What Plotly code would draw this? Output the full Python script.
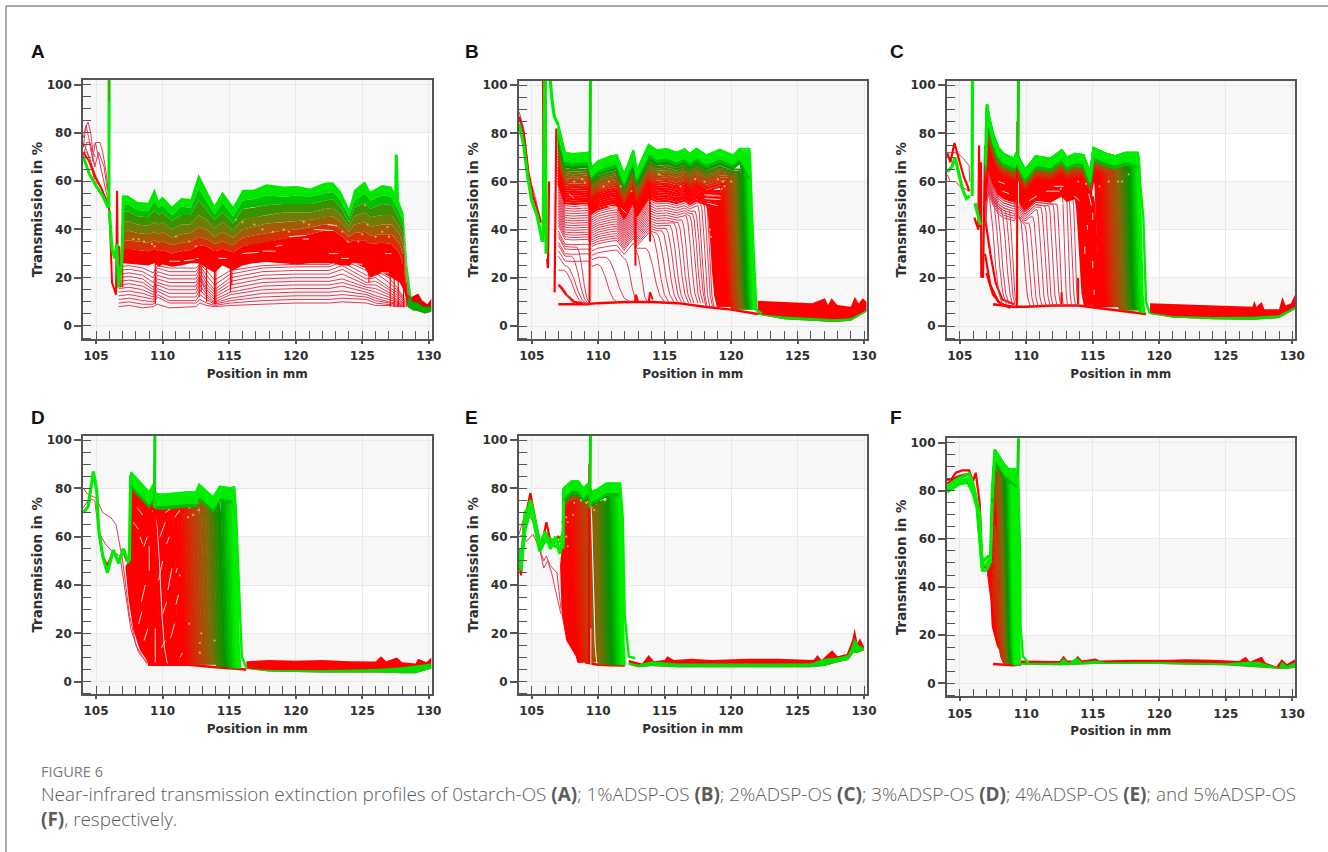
import numpy as np
import plotly.graph_objects as go

W, H = 1328, 852
X_TICKS = [105, 110, 115, 120, 125, 130]
Y_TICKS = [0, 20, 40, 60, 80, 100]
LETTERS = ["A", "B", "C", "D", "E", "F"]
CAPTION_HEAD = "FIGURE 6"
CAPTION = ("Near-infrared transmission extinction profiles of 0starch-OS <b>(A)</b>; 1%ADSP-OS <b>(B)</b>; "
           "2%ADSP-OS <b>(C)</b>; 3%ADSP-OS <b>(D)</b>; 4%ADSP-OS <b>(E)</b>; and 5%ADSP-OS<br>"
           "<b>(F)</b>, respectively.")

# ---------------- Panel A ----------------
A_X = [107.0,107.4,108.1,108.9,109.4,109.7,110.0,110.7,111.4,112.1,112.7,113.3,113.9,114.5,115.3,116.0,116.8,117.8,119.1,120.1,121.1,122.2,122.8,123.4,124.0,124.4,125.2,125.6,126.5,127.2,127.8,128.1,128.4,128.7]
A_E0 = [54,54,51.5,51,57,52,53.6,49.5,53,52.6,63,56.4,50,55.7,49.5,56.4,56.4,58.7,57.8,58,57,59.4,59.5,55.7,48.8,56.4,60,55.7,58.4,57.8,51,46.7,24.6,12]
A_E1 = [50,50.5,48,47.5,52,49,50,46,49.5,49,57,52,46.5,51,45.5,52,52.5,54,53.5,54,53.5,55,55.5,52,45.5,52,55,52,54,53.5,47,43,20,10]
A_E2 = [47,47.5,45.5,45,48,46,47,43.5,46,46,52,48,44,47,42.5,48.5,49,50,50.5,50.5,50.5,52,52.5,49,43,49,51,48.5,50.5,50,44,40,18,9.5]
A_E3 = [43,43.5,42,41.5,43,42,43,40,42,42,46,44,40.5,43,39.5,44,45,46,47,47,47,48.5,49,46,41,45.5,47,45,46,46,41,37,16,9]
A_E4 = [39,39.5,38.5,38,39,38,39,36.5,38,38.5,41,40,37,39,36.5,40,41,42.5,43,43.5,44,45,45.5,43,39,42,43,41,42,42,38,33,14.5,8.5]
A_E5 = [35,35.5,35,34.5,35.5,34.5,35,33.5,34.5,35,37,36,34,35,33.5,36.5,37.5,38.5,39.5,40,41,42,42,40,37,38.5,39,37.5,38,38,34,29,13,8]
A_E6 = [32,32,31.5,31,32,31,31.5,30,31,31.5,33.5,33,31,32,30.5,33,34,35,36,37,38,39.5,39.5,37.5,34.5,35.5,35.5,34,34.5,34,30,25,12,8]
A_E7 = [26,26,25.5,25,26,24.5,25.5,24.5,25,26,26,24,22,25,23,25,26,26.5,26,25.5,26,26,26,25,25,26,24,20,22,20,18,15,10,8]
A_LOW_X = [106.7,107.5,108.5,109.3,109.6,110.5,112.5,112.8,113.3,113.9,115.1,117.5,120,122.5,123.5,125.3,126,127,127.6,128.2]
A_LOW = [
 [8,8.5,7.5,8,9,7.5,8,9.5,8.5,8,8.5,9,9.5,9.5,10,9.5,8.5,8.5,8,8],
 [9.5,10,9,9,12,9.5,9.5,11,9.5,8.5,9.5,10.5,11,11,11.5,11,9.5,9,8.5,8],
 [11,11.5,10.5,10,13,10.5,10.5,13,11,9,10.5,12,12.5,12.5,13,12,10.5,9.5,9,8],
 [12.5,13,12,11,14.5,12,12,15,12,9.5,11.5,13.5,14,14,14.5,13,11.5,10,9.5,8],
 [14,14.5,13.5,12,15.5,13.5,13.5,17,13,10,13,15,15.5,15.5,16.5,14,12.5,11,10,8],
 [15.5,16,15,13,17,15,15,19,14,11,14,16.5,17,17,18,15,14,12,10.5,8.5],
 [17,17.5,16.5,14,18,16.5,16.5,20,15,12,15.5,18,18.5,18.5,19.5,16,15.5,13,11,9],
 [18.5,19,18,15,19.5,18,18,21,16,13,17,19.5,20,20,21.5,17,17,14,12,9],
 [20,20.5,19.5,16,21,19.5,19.5,22.5,17.5,14,18.5,21,21.5,21.5,23.5,18,18.5,15,13,9.5],
 [21.5,22,21,18,22.5,21,21,24,19,15,20,22.5,23,23,25,19.5,20,16,14,10],
 [23,23.5,22.5,20,24,22.5,22.5,25,21,17,21.5,24,24.5,24.5,26.5,21,22,18,15,10.5],
 [24.5,25,24,22,25,24,24,25.5,23,19,23,25,25.5,25.5,27.5,23,23,20,16,11],
]
A_LEFT_THIN = [
 [(104.05,74),(104.2,82),(104.4,84.5),(104.6,80),(104.75,72),(104.95,70)],
 [(104.05,78),(104.25,83),(104.45,78),(104.7,70),(104.95,66)],
 [(104.05,70),(104.3,76),(104.55,76),(104.7,72)],
 [(104.7,74),(105.0,76),(105.3,76),(105.5,72),(105.75,64),(105.9,56)],
 [(104.7,68),(104.95,76),(105.1,72),(105.5,62),(105.9,52)],
 [(104.05,72),(104.3,72),(104.6,68),(105,62),(105.5,56),(105.9,50)],
 [(104.6,74),(104.9,66),(105.2,72),(105.6,66),(105.85,56)],
 [(104.05,76),(104.5,70),(104.9,60),(105.3,58),(105.85,52)],
]
A_LEFT_RED = [[(104.05,72),(104.5,68),(104.9,62),(105.4,57),(105.9,50)],
              [(105.95,50),(106.05,41),(106.2,18),(106.4,15),(106.5,13)],
              [(106.5,13),(106.58,56),(106.65,16),(106.75,33),(106.85,16)]]
A_LEFT_GREEN = [[(104.05,70),(104.5,63),(105,58),(105.5,54),(105.9,49)],
                [(105.97,49),(105.98,102)],
                [(106.0,48),(106.2,32),(106.4,28),(106.55,34),(106.7,16),(106.95,28),(107.05,54)],
                [(127.5,52),(127.56,71),(127.65,52)]]
A_STROKES = [[(107.0,16),(107.0,26)],[(109.45,9),(109.45,28)],[(112.75,12),(112.75,32)],[(112.9,14),(112.9,28)],
             [(113.3,10),(113.3,26)],[(113.9,9),(113.9,32)],[(114.0,9),(114.0,25)],[(115.1,14),(115.1,30)],
             [(115.2,17),(115.2,28)],[(125.5,18),(125.5,28)],[(127.1,8),(127.1,30)],[(127.4,8),(127.4,26)],
             [(127.7,8),(127.7,27)],[(128.1,8),(128.1,30)],[(128.3,8),(128.3,18)]]
A_PALE = [(110.5,26.8,111.3,26.8),(111.6,27,112.4,27.5),(112.5,28,112.7,28),(114.2,28,114.8,28),(116,30,117.2,30.5),
          (117.5,31,118.5,31),(118.5,33,119,33.5),(119.5,37,120.8,37.5),(120.5,36,121,36),(121.4,40,122.8,39.5),
          (122.4,42,123.1,41.5),(122.5,30,123.2,30),(123.4,28,124,28),(124.2,26,125,25.5),(126.4,22,127,22),(126.7,30,127.2,30)]
A_DOTS = [(107.8,36),(108.2,36),(108.6,35),(109.2,34),(109.4,33),(111,37),(112,35),(112.5,33),(115.5,44),(116,43),(116.9,42),
          (117.5,40),(118.3,39),(119.1,40),(119.5,39),(120.6,43),(121,42),(123.5,39),(123.9,35),(124.7,35),(125,38),(125.2,50),
          (125.4,42),(126,37),(126.5,39),(126.9,41),(127,37)]
A_RIGHT_RED = [(128.2,14),(128.7,12),(129.2,13.5),(129.5,10.5),(129.9,9),(130.2,11.5)]
A_RIGHT_GTOP = [(128.4,12),(128.8,10),(129.2,9.5),(129.6,8),(130.2,8)]
A_RIGHT_GBOT = [(128.4,8),(128.8,6.5),(129.3,6),(129.7,5.2),(130.2,6)]

# ---------------- Panel B ----------------
B_REF = 72
B_PLATEAU = [(107,83.5),(107.5,72),(108.1,71.5),(108.9,71.8),(109.25,72),(109.5,66),(110,68.5),(110.9,70.4),(111.4,71),(111.95,63),(112.65,73),(112.9,64.6),(113.8,75.3),(114.4,73),(115.15,73.5),(115.9,72),(116.5,73.5),(116.9,71.5),(117.4,73.6),(118.15,70.9),(119.15,73.3),(120.15,70.9),(120.65,73.6),(121.4,66)]
B_TAIL = [(121.4,66),(121.6,39.8),(121.9,6.6),(122.3,5.2)]
B_BASE = [(107,9),(108,9),(109,9),(110,9.5),(112,10),(114,10),(116,9.5),(118,8),(120,6.8),(122,5)]
B_THIN = [(15,107.0,108.4),(20,107.4,109.0),(25,107.6,109.2),(29,108.0,109.3),(33,108.4,109.4),(27,110.0,111.5),(30,110.6,112.4),
          (32,112.0,113.0),(34,112.9,113.7),(36,113.6,115.0),(37,114.0,115.3),(38,114.4,115.7),(39,114.8,116.0),(40,115.1,116.3),
          (41,115.4,116.5),(42,115.7,116.8),(43,116.0,117.0),(44,116.3,117.2),(45,116.6,117.5),(46,116.9,117.7),(47,117.1,117.9),
          (48,117.3,118.1),(49,117.5,118.2),(50,117.7,118.4),(51,117.9,118.6),(52,118.1,118.7)]
B_FRONT = [118.2,118.3,118.38,118.47,118.55,118.63,118.72,118.8,118.88,118.97,119.05,119.13,119.22,119.3,119.38,119.47,119.55,119.63,119.72,119.8,119.88,119.97,120.05,120.13,120.22,120.3,120.38,120.47,120.55,120.63,120.72,120.8,120.88,120.97,121.05,121.13,121.2,121.27,121.33,121.38]
B_LEVEL = [51,52,52,53,53,54,54,55,55,56,56,57,57,58,58,59,59,60,60,61,61,62,62,63,63,64,64,65,65,66,66.5,67,67.5,68,68.5,69,69.8,70.5,71.2,72]
B_DW_X, B_DW_Y = [118.2,121.4], [0.8,0.45]
B_COLOR_STOPS = (119.5,121.0,121.5)
B_LEFT_THIN = [[(104.05,89),(104.4,82),(104.8,62),(105.2,55),(105.7,43)]]
B_LEFT_RED = [[(104.05,87),(104.4,80),(104.75,64),(105.1,54),(105.7,43)],
              [(105.85,102),(105.9,38)],[(106.15,28),(106.22,24),(106.3,60)],[(106.72,14),(106.85,82)],
              [(107,17),(107.2,16),(107.6,13),(108.2,10),(109.3,9)]]
B_LEFT_GREEN = [[(104.05,84),(104.4,75),(104.7,62),(105,52),(105.4,46),(105.8,35)],
                [(105.85,35),(105.98,102)],[(106.02,102),(106.08,30)],
                [(106.4,102),(106.5,95),(106.7,87),(107,83.5)]]
B_WEDGE = []
B_STROKES = [[(109.35,9),(109.38,82)],[(112.8,25),(112.8,52)],[(113.9,35),(113.9,60)],[(112.75,10),(112.85,13),(113.0,10)],[(113.8,10),(113.9,14),(114.1,11)]]
B_SPIKE = [[(109.38,65),(109.42,102)]]
B_PALE = [(107.8,55,108.2,53),(108.6,50,109,48),(110.7,50,111.5,49),(111.7,49,112.1,47),(113.9,52,114.3,50),(114.7,49,115.1,47),
          (116.5,51,116.9,49),(118,54.5,119.2,54),(118,53,119.2,52.5),(118.2,51,119,50),(109.5,11,109.5,35)]
B_DOTS = [(108.2,60),(108.8,61),(109,59.5),(110.4,58),(110.8,60),(111.7,58),(112.5,56),(114.6,63),(116.2,58),(117.3,61),(118,60),
          (119,61),(119.4,60),(119.5,58),(120,60),(118.4,40),(118.5,37),(119.3,57)]
B_RIGHT_RED = [(122,10.5),(124.4,10),(126.1,9.4),(127.05,11.5),(127.3,8.7),(127.55,11.5),(128,8.7),(129,8),(129.3,12),(129.6,9.4),(129.9,11.5),(130.2,10)]
B_RIGHT_GTOP = [(122,5),(124,3.9),(126.5,3.2),(127.75,2.8),(129,3.2),(130,6),(130.2,7)]
B_RIGHT_GBOT = [(122,4.8),(124,2.8),(127.75,1.7),(129,2.2),(130.2,6)]

# ---------------- Panel C ----------------
C_REF = 70
C_PLATEAU = [(106.95,70),(107.05,92),(107.2,87),(107.5,80),(107.9,74),(108.3,71.5),(108.7,70.5),(109.1,69.5),(109.25,72),(109.6,68),(109.9,65),(110.3,67.5),(110.7,70.5),(111.3,70),(111.8,69.5),(112.67,73),(113.05,70),(113.7,71.5),(114.3,71),(114.8,63.5),(115.05,74),(116.05,71.5),(116.7,70.5),(117.45,72),(118.45,70.5)]
C_TAIL = [(118.45,70.5),(118.55,60),(118.8,45),(119,10),(119.3,5)]
C_BASE = [(107.5,9),(109,8),(110,8),(112,8.5),(113.9,8.5),(115,7.8),(117,6.5),(118.5,5.5),(119,5)]
C_THIN = [(42,107.1,108.2),(44,107.4,108.5),(45,107.7,108.7),(46,108.1,109.0),(47,108.4,109.2),(48,108.7,109.3),(44,109.5,110.3),
          (45,109.9,110.6),(46,110.2,110.9),(47,110.5,111.2),(48,110.8,111.5),(49,111.1,111.8),(50,111.4,112.0),(50,111.7,112.3),
          (51,112.0,112.6),(51,112.3,112.8),(52,112.7,113.1),(52,113.0,113.4),(53,113.2,113.7),(53,113.5,113.9)]
C_FRONT = [113.7,113.8,113.9,113.98,114.06,114.14,114.22,114.3,114.38,114.46,114.54,114.62,114.7,114.78,114.86,114.94,115.02,115.1,115.18,115.26,115.34,115.42,115.5,115.58,115.66,115.74,115.82,115.9,115.98,116.06,116.14,116.22,116.3,116.38,116.46,116.54,116.62,116.7,116.78,116.86,116.94,117.02,117.1,117.18,117.26,117.34,117.42,117.5,117.58,117.66,117.74,117.82,117.9,117.98,118.06,118.14,118.22,118.3,118.36,118.42]
C_LEVEL = [52,52.5,53,53.5,54,54.5,55,55.5,56,56.5,57,57,57.5,58,58,58.5,59,59,59.5,60,60,60.5,61,61,61.5,61.5,62,62,62.5,62.5,63,63,63.5,63.5,64,64,64,64.5,64.5,65,65,65,65.5,65.5,66,66,66,66.5,66.5,67,67,67.5,68,68.5,69,69.5,70,70,70,70]
C_DW_X, C_DW_Y = [113.7,118.4], [0.7,0.45]
C_COLOR_STOPS = (115.7,117.9,118.5)
C_LEFT_THIN = [[(104.05,72),(104.3,72),(104.8,72),(105.2,70),(105.7,66.7),(105.75,60)],
               [(104.05,63),(104.3,60),(104.7,60),(105,58),(105.4,57),(105.7,56)]]
C_LEFT_RED = [[(104.05,72),(104.3,68),(104.6,76),(104.9,70),(105.3,62),(105.6,58),(105.7,56)],
              [(106.1,45),(106.4,40),(106.45,75),(106.5,41)],[(106.6,68),(106.62,20)],[(106.75,20),(106.9,75)],
              [(106.9,30),(107.3,17),(107.9,10),(108.8,7.5)],[(107.0,22),(107.5,13),(108.1,9),(108.9,8)],
              [(106.9,45),(107.3,30),(107.7,18),(108.2,11),(109.1,9)]]
C_LEFT_GREEN = [[(104.05,64),(104.4,66),(104.65,70),(104.9,64),(105.2,57),(105.5,53),(105.75,54)],
                [(105.93,54),(105.96,102)],[(106.15,51),(106.2,50),(106.4,46),(106.55,42)],[(106.95,70),(107.05,92)]]
C_WEDGE = []
C_STROKES = [[(109.3,8),(109.33,85)],[(112.65,9),(112.65,14)],[(113.9,9),(113.9,20)]]
C_SPIKE = [[(109.38,70),(109.42,102)]]
C_PALE = [(107.9,60,108.4,59),(108.2,56,108.7,55),(110.2,52,110.8,54),(111.5,56,112.5,56),(112.1,58,112.8,58),(112.6,52,112.9,50),
          (113.6,54,114,52),(114.7,55,114.9,50),(114.6,42,114.6,40),(114.4,33,114.4,30),(115,27,115,24),(115,47,115,44),(115.1,15,115.1,13),
          (109.42,50,109.42,60),(109.42,10,109.42,20)]
C_DOTS = [(113.9,60),(114.5,59),(115.5,58),(116.2,60),(116.9,60),(117.7,63),(117.2,60),(112.6,57)]
C_RIGHT_RED = [(119.3,9.5),(122,9),(125,8.2),(127,8),(127.15,10.5),(127.3,8),(127.7,10),(127.9,7),(129,7),(129.25,12),(129.5,8.5),(129.9,9.5),(130.2,13)]
C_RIGHT_GTOP = [(119.3,5.5),(121,4.2),(124,3.7),(127,3.8),(129,4.5),(130.2,8)]
C_RIGHT_GBOT = [(119.3,5),(121,3.5),(124,2.8),(127,2.6),(129,3.3),(130.2,7)]

# ---------------- Panel D ----------------
D_REF = 78
D_PLATEAU = [(107.6,85.6),(108.3,81.5),(109,77.3),(109.3,80.5),(109.5,76.7),(110,76.5),(111,77),(112,77.5),(112.5,77.3),(112.75,80.5),(113.4,77.3),(113.8,75.3),(114.3,79.7),(115.1,79),(115.3,79.4),(115.5,72.5)]
D_TAIL = [(115.5,72.5),(115.7,47.6),(115.95,10.4),(116.3,5.5)]
D_BASE = [(108.9,7),(110,7),(112,7),(114,6),(115,5.5),(116.3,5)]
D_THIN = []
D_FRONT = [107.6,107.7,107.81,107.9,108.0,108.12,108.2,108.31,108.4,108.5,108.62,108.7,108.8,108.91,109.0,109.1,109.22,109.3,109.55,109.65,109.75,109.86,109.95,110.05,110.16,110.25,110.35,110.46,110.55,110.65,110.76,110.85,110.95,111.06,111.15,111.25,111.36,111.45,111.55,111.66,111.75,111.85,111.96,112.05,112.15,112.26,112.35,112.45,112.56,112.65,112.75,112.86,112.95,113.05,113.16,113.25,113.35,113.46,113.55,113.65,113.76,113.85,113.95,114.06,114.15,114.25,114.36,114.45,114.55,114.66,114.75,114.85,114.96,115.05,115.13,115.2,115.28,115.34,115.4]
D_LEVEL = [66,66,66.5,67,67,67.5,67.5,68,68,68.5,68.5,69,69,69,69.5,69.5,70,70,70,70.5,70.5,70.5,71,71,71,71,71.5,71.5,71.5,71.5,72,72,72,72,72.5,72.5,72.5,72.5,73,73,73,73,73,73.5,73.5,73.5,73.5,74,74,74,74,74.5,74.5,74.5,75,75,75,75,75.5,75.5,75.5,76,76,76,76.5,76.5,76.5,77,77,77,77.5,77.5,78,78,78.5,78.5,78.5,79,79]
D_DW_X, D_DW_Y = [107.6,109,112,115.4], [1.4,1.0,0.6,0.45]
D_COLOR_STOPS = (111.4,114.5,115.4)
D_LEFT_THIN = [[(104.05,80),(104.3,78),(104.6,77),(105,76),(105.5,70),(106.1,68),(106.5,65),(107,50),(107.5,28),(108,15),(108.8,7.5)],
               [(104.05,72),(104.5,76),(104.9,75),(105.2,62),(105.7,57),(106.2,54),(106.8,52),(107.2,38),(107.6,22),(108.2,12),(109,7)]]
D_LEFT_RED = [[(105.2,62),(105.5,52),(105.85,48),(106.3,54),(106.7,50),(107.05,54),(107.3,50)]]
D_LEFT_GREEN = [[(104.05,70),(104.4,72.5),(104.8,87),(105.05,79),(105.2,63),(105.5,52),(105.85,45),(106.3,54.5),(106.7,49),(107.05,55),(107.45,49)],
                [(107.5,50),(107.6,85.6)]]
D_WEDGE = [(107.2,47.6),(107.45,33.8),(107.8,21.4),(108.3,13),(108.95,7.6),(109.3,7.5),(109.3,70),(108.5,75),(107.7,75),(107.45,50)]
D_STROKES = [[(109.3,8),(109.33,72)]]
D_SPIKE = [[(109.38,72),(109.42,102)]]
D_PALE = [(107.8,66,108.2,63),(108.1,72,108.5,69),(108.3,60,108.5,57),(108.6,56,108.85,60),(109.0,46,109.0,56),(108.4,33,108.7,40),
          (108.2,24,108.45,29),(108.6,17,108.9,22),(109.7,42,110.0,50),(109.8,60,110.2,66),(110.3,57,110.5,60),(110.4,38,110.7,47),
          (110.0,28,110.3,33),(110.6,18,110.9,24),(111.0,32,111.2,36),(111.0,45,111.1,47),(110.2,70,110.7,72),(110.9,68,111.3,71),
          (111.3,10,111.5,12),(109.9,14,110.2,17),(109.45,8,109.45,22)]
D_DOTS = [(111.3,44),(112,24),(112.8,16),(112.9,20),(112.8,12),(113.9,17),(112,72),(113.4,73),(112.7,71),(112.3,69),(111.9,68)]
D_RIGHT_RED = [(116.3,8.5),(118,9),(120,8.7),(122,9),(124,8.5),(126,8.3),(126.4,10.5),(126.8,8.5),(127.6,10),(128,8),(129,7.5),(129.2,9.5),(129.8,8),(130.2,10)]
D_RIGHT_GTOP = [(116.3,5.5),(118,4.8),(122,4.7),(126,5.2),(128,6),(130.2,7.5)]
D_RIGHT_GBOT = [(116.3,5.3),(118,4.2),(122,3.8),(126,3.8),(128,3.5),(129,3.5),(130.2,5.5)]

# ---------------- Panel E ----------------
E_REF = 82
E_PLATEAU = [(107.4,80),(108,82.9),(108.5,82.9),(108.9,80),(109.25,82),(109.5,78.7),(109.9,79.4),(110.6,82),(111.65,82)]
E_TAIL = [(111.65,82),(111.85,68),(112,27),(112.3,10.4),(112.8,9.7)]
E_BASE = [(109,8),(110,7),(111,6.8),(112,6.7)]
E_THIN = []
E_FRONT = [107.3,107.38,107.46,107.54,107.62,107.7,107.78,107.86,107.94,108.02,108.1,108.18,108.26,108.34,108.42,108.5,108.58,108.66,108.74,108.82,108.9,108.98,109.06,109.14,109.22,109.3,109.55,109.63,109.71,109.79,109.87,109.95,110.03,110.11,110.19,110.27,110.35,110.43,110.51,110.59,110.67,110.75,110.83,110.91,110.99,111.07,111.15,111.23,111.31,111.39,111.47,111.55,111.61,111.66]
E_LEVEL = [68,69,70,71,72,72.5,73,73,73.5,73.5,74,74,74.5,74.5,74.5,75,75,75,75,75,75.5,75.5,75.5,75.5,75.5,75.5,76,76,76,76,76,76.5,76.5,76.5,76.5,76.5,76.5,77,77,77,77,77,77.5,77.5,78,78.5,79,79.5,80,80.5,81,81.5,82,82]
E_DW_X, E_DW_Y = [107.3,108,109,110,111.7], [1.2,0.8,0.5,0.4,0.35]
E_COLOR_STOPS = (108.1,110.9,111.7)
E_LEFT_THIN = [[(104.05,60),(104.4,61),(104.6,58),(105.1,61),(105.6,55),(105.9,47),(106.2,50),(106.5,45),(106.9,35),(107.2,28)],
               [(104.05,61),(104.4,68),(104.7,70),(105.1,66),(105.6,55),(105.9,50),(106.1,52),(106.4,48),(106.9,45),(107.2,30)]]
E_LEFT_RED = [[(104.05,50),(104.2,44),(104.4,65),(104.9,78),(105.3,66),(105.7,55),(106.1,66),(106.5,56),(107,60),(107.4,58)]]
E_LEFT_GREEN = [[(104.05,55),(104.2,46),(104.5,66),(104.9,75),(105.2,68),(105.6,57),(106.05,62),(106.4,55),(106.8,60),(107.1,53),(107.4,60)],
                [(104.05,52),(104.2,47),(104.5,70),(104.9,73),(105.2,65),(105.6,54),(106.05,59),(106.4,57),(106.8,56),(107.1,55),(107.4,58)],
                [(104.05,48),(104.2,49),(104.5,63),(104.9,71),(105.2,67),(105.6,57),(106.05,58),(106.4,59),(106.8,58),(107.1,58),(107.4,62)],
                [(107.35,55),(107.4,80)]]
E_WEDGE = [(107.13,48),(107.25,28),(107.6,17),(108.25,11),(109.1,8.3),(109.3,8),(109.3,40),(108.4,74),(107.6,74),(107.3,58)]
E_STROKES = [[(109.3,8),(109.33,90)]]
E_SPIKE = [[(109.38,72),(109.42,102)]]
E_PALE = [(109.45,7,109.45,22)]
E_DOTS = [(108.2,74),(108.7,75),(109.1,74),(109.5,75),(109.5,72),(109.7,71),(108.1,69),(107.6,68),(107.7,66),(110.2,75),(110.5,75),(107.7,56),(107.6,60)]
E_RIGHT_RED = [(112.3,9),(113,8),(113.3,7.5),(113.8,11),(114.2,8.5),(115,9),(115.2,10.5),(115.7,9),(117,9.5),(118.5,9),(121.3,9.5),(123.6,9.5),(126.2,9),(126.5,11),(126.8,9),(127.6,13),(128,10.5),(128.7,11.5),(129.1,17),(129.3,22),(129.5,16),(129.7,18),(130,14.5)]
E_RIGHT_GTOP = [(112.3,8),(113,7),(114,8.5),(116,7.5),(120,7.5),(126,7.5),(127,9.5),(128,10),(128.8,11),(129.3,18),(129.6,15),(130,14)]
E_RIGHT_GBOT = [(112.3,7),(113,6),(114,6.5),(116,6),(120,6),(126,6),(127,6.5),(128,8),(128.8,9),(129.2,12),(129.5,12),(130,13)]

# ---------------- Panel F ----------------
F_REF = 88
F_PLATEAU = [(107.45,80),(107.65,97),(108.3,91.3),(108.65,89),(109.25,86.5)]
F_TAIL = [(109.25,86.5),(109.4,86),(109.55,50),(109.57,23.6),(109.75,11.2),(110.15,8.4)]
F_BASE = [(107.5,8),(109,7.5),(109.6,7.8)]
F_THIN = []
F_FRONT = [107.36,107.39,107.42,107.45,107.48,107.51,107.54,107.57,107.6,107.63,107.66,107.7,107.74,107.78,107.82,107.88,107.94,108.0,108.06,108.12,108.18,108.24,108.3,108.36,108.42,108.48,108.54,108.6,108.66,108.72,108.78,108.84,108.9,108.96,109.02,109.08,109.14,109.2,109.26,109.32]
F_LEVEL = [40,44,48,52,56,60,64,67,70,72,74,75,76,77,78,79,80,80,81,81,82,82,83,83,84,84,85,85,85.5,86,86,86.5,87,87,87.5,88,88,88,88,88]
F_DW_X, F_DW_Y = [107.36,108,108.8,109.32], [1.0,0.6,0.35,0.2]
F_COLOR_STOPS = (107.6,108.6,109.0)
F_LEFT_THIN = []
F_LEFT_RED = [[(104.05,84.5),(104.4,85),(104.7,87.5),(105.2,88.5),(105.7,88.5),(106,84),(106.2,87.5),(106.3,83),(106.5,75),(106.6,60),(106.65,48)],
              [(104.05,83),(104.7,85.5),(105.2,86.5),(105.7,87)]]
F_LEFT_GREEN = [[(104.05,81.5),(104.7,84.5),(105.3,86),(105.7,87),(106,83),(106.3,76),(106.5,70),(106.6,58),(106.7,50),(107,52),(107.2,53)],
                [(104.05,79.5),(105,83),(105.6,83.5),(106,79),(106.3,73),(106.55,55),(106.7,47),(107,47),(107.25,50)],
                [(104.05,80.5),(105,84),(105.6,85),(106,81),(106.3,74.5),(106.55,57),(106.7,48.5),(107,49.5),(107.25,51.5)],
                [(107.3,50),(107.35,60),(107.45,80),(107.65,97)]]
F_WEDGE = [(106.7,48),(107,47.5),(107.3,34.7),(107.4,23.6),(107.8,15.3),(108.55,9.1),(109.3,7.5),(109.3,30),(108.2,88),(107.7,88),(107.35,50)]
F_STROKES = []
F_SPIKE = [[(109.36,86),(109.42,102)]]
F_PALE = []
F_DOTS = []
F_RIGHT_RED = [(109.6,9.5),(112.5,9.3),(112.8,11.5),(113.1,9.5),(113.7,9.5),(113.85,11.5),(114.2,9.5),(115.2,10.3),(115.5,9.5),(118,9.8),(120.8,9.8),(122,10),(124,9.8),(126,9.3),(126.5,11),(126.8,9),(127.7,11),(128,8.5),(128.8,7),(129.2,10),(129.6,8),(130.2,10)]
F_RIGHT_GTOP = [(109.6,8.5),(112.5,8.5),(112.8,10.5),(113.2,8.5),(113.8,10.8),(114.2,8.8),(115.2,9.5),(116,8.7),(120,8.8),(125,8.3),(126.5,9),(127.5,9),(128,8),(129,6.5),(129.2,9),(129.6,7.3),(130.2,8.7)]
F_RIGHT_GBOT = [(109.6,7.8),(112.5,7.5),(115,8),(120,8),(125,7.5),(126.5,7),(128,6.5),(129,6),(129.6,6),(130.2,6.5)]

# Below each panel's top edge: how far (in %) the bright and the darker green rims reach
BRIGHT_RIM = [0.7, 1.4, 2.1, 2.8, 3.5]
DARK_RIM = [4.2, 4.9]

# ---------------- layout and styles (not data) ----------------
BOXES = {"A": (83, 431.5, 80, 339), "B": (518.7, 866.7, 80.7, 339), "C": (946.7, 1295, 80.7, 339),
         "D": (83, 431.5, 435.7, 694), "E": (518.7, 866.7, 435.7, 694), "F": (946.7, 1295, 438.3, 696.3)}
XR = [104.02, 130.2]
YRS = {"A": [-5.4, 101.9], "B": [-5.4, 101.9], "C": [-5.4, 101.9], "D": [-5.1, 101.8], "E": [-5.1, 101.8], "F": [-5.4, 101.8]}
LETTER_POS = {"A": (29, 52), "B": (463, 52), "C": (888, 52), "D": (29, 417), "E": (463, 417), "F": (888, 417)}
RED, PINK, GREEN = "#ff0000", "#e23a50", "#00ec00"
PALE, DOT = "#f9dcc8", "#e9b04a"
DROP_T = [0, .15, .35, .55, .75, 1]
DROP_F = [1, .93, .68, .34, .11, 0]
STOPS = [(255, 0, 0), (200, 55, 10), (130, 105, 10), (0, 150, 0), (0, 240, 0)]

fig = go.Figure()


def unzip(pts):
    return [p[0] for p in pts], [p[1] for p in pts]


def axes(i):
    s = "" if i == 0 else str(i + 1)
    return "x" + s, "y" + s


def line(i, xs, ys, color, width):
    xa, ya = axes(i)
    fig.add_trace(go.Scatter(x=xs, y=ys, mode="lines", line=dict(color=color, width=width), xaxis=xa, yaxis=ya,
                             hoverinfo="skip", showlegend=False))


def poly(i, xs, ys, color):
    xa, ya = axes(i)
    fig.add_trace(go.Scatter(x=xs, y=ys, mode="lines", line=dict(width=0, color=color), fill="toself", fillcolor=color,
                             xaxis=xa, yaxis=ya, hoverinfo="skip", showlegend=False))


def band(i, top, bottom, color):
    tx, ty = unzip(top)
    bx, by = unzip(bottom)
    poly(i, tx + bx[::-1], ty + by[::-1], color)


def lines(i, series, color, width):
    for s in series:
        line(i, *unzip(s), color, width)


def pale(i, dashes):
    for x0, y0, x1, y1 in dashes:
        line(i, [x0, x1], [y0, y1], PALE, 1)


def dots(i, pts):
    if pts:
        xa, ya = axes(i)
        xs, ys = unzip(pts)
        fig.add_trace(go.Scatter(x=xs, y=ys, mode="markers", marker=dict(size=2.2, color=DOT), xaxis=xa, yaxis=ya,
                                 hoverinfo="skip", showlegend=False))


def last_value(pts, x):
    y = pts[0][1]
    for px, py in pts:
        if px <= x:
            y = py
    return y


def grad(f, stops):
    xr, xg, xe = stops
    if f <= xr:
        return "rgb(255,0,0)"
    if f >= xe:
        return "rgb(0,240,0)"
    pos = (f - xr) / (xg - xr) * 3 if f < xg else 3 + (f - xg) / (xe - xg)
    k = min(int(pos), 3)
    t = pos - k
    c = [round(STOPS[k][j] + (STOPS[k + 1][j] - STOPS[k][j]) * t) for j in range(3)]
    return f"rgb({c[0]},{c[1]},{c[2]})"


def profile(i, plateau, base, ref, level, fs, fe, color, width):
    xs = [p[0] for p in plateau if p[0] < fs]
    ys = [level * p[1] / ref for p in plateau if p[0] < fs]
    top = level * last_value(plateau, fs) / ref
    for t, fr in zip(DROP_T, DROP_F):
        x = fs + t * (fe - fs)
        b = last_value(base, x)
        xs.append(x)
        ys.append(b + (top - b) * fr)
    line(i, xs, ys, color, width)


# Panel A
i = 0
lines(i, A_LEFT_THIN, PINK, 1)
lines(i, A_LEFT_RED, RED, 2)
band(i, A_RIGHT_RED, A_RIGHT_GBOT, "#e00000")
for y in A_LOW:
    line(i, A_LOW_X, y, PINK, 1)
for top, bot, col in [(A_E0, A_E1, "#00e800"), (A_E1, A_E2, "#00c000"), (A_E2, A_E3, "#3b9200"), (A_E3, A_E4, "#6f7c05"),
                      (A_E4, A_E5, "#a25c08"), (A_E5, A_E6, "#d43204"), (A_E6, A_E7, "#fa0000")]:
    band(i, list(zip(A_X, top)), list(zip(A_X, bot)), col)
lines(i, A_STROKES, RED, 1.2)
pale(i, A_PALE)
dots(i, A_DOTS)
band(i, A_RIGHT_GTOP, A_RIGHT_GBOT, "#00b000")
lines(i, A_LEFT_GREEN, GREEN, 3)
line(i, [105.98, 105.98], [93, 102], "#7a6a10", 1)

# Panels B-F
PANELS = [
    (1, B_LEFT_THIN, B_LEFT_RED, B_LEFT_GREEN, B_PLATEAU, B_TAIL, B_BASE, B_REF, B_THIN, B_FRONT, B_LEVEL, B_DW_X, B_DW_Y,
     B_COLOR_STOPS, B_STROKES, B_SPIKE, B_PALE, B_DOTS, B_RIGHT_RED, B_RIGHT_GTOP, B_RIGHT_GBOT, B_WEDGE),
    (2, C_LEFT_THIN, C_LEFT_RED, C_LEFT_GREEN, C_PLATEAU, C_TAIL, C_BASE, C_REF, C_THIN, C_FRONT, C_LEVEL, C_DW_X, C_DW_Y,
     C_COLOR_STOPS, C_STROKES, C_SPIKE, C_PALE, C_DOTS, C_RIGHT_RED, C_RIGHT_GTOP, C_RIGHT_GBOT, C_WEDGE),
    (3, D_LEFT_THIN, D_LEFT_RED, D_LEFT_GREEN, D_PLATEAU, D_TAIL, D_BASE, D_REF, D_THIN, D_FRONT, D_LEVEL, D_DW_X, D_DW_Y,
     D_COLOR_STOPS, D_STROKES, D_SPIKE, D_PALE, D_DOTS, D_RIGHT_RED, D_RIGHT_GTOP, D_RIGHT_GBOT, D_WEDGE),
    (4, E_LEFT_THIN, E_LEFT_RED, E_LEFT_GREEN, E_PLATEAU, E_TAIL, E_BASE, E_REF, E_THIN, E_FRONT, E_LEVEL, E_DW_X, E_DW_Y,
     E_COLOR_STOPS, E_STROKES, E_SPIKE, E_PALE, E_DOTS, E_RIGHT_RED, E_RIGHT_GTOP, E_RIGHT_GBOT, E_WEDGE),
    (5, F_LEFT_THIN, F_LEFT_RED, F_LEFT_GREEN, F_PLATEAU, F_TAIL, F_BASE, F_REF, F_THIN, F_FRONT, F_LEVEL, F_DW_X, F_DW_Y,
     F_COLOR_STOPS, F_STROKES, F_SPIKE, F_PALE, F_DOTS, F_RIGHT_RED, F_RIGHT_GTOP, F_RIGHT_GBOT, F_WEDGE),
]
for (i, lthin, lred, lgreen, plateau, tail, base, ref, thin, front, level, dwx, dwy, cstops, strokes, spike, pal, dts,
     rred, rgtop, rgbot, wedge) in PANELS:
    lines(i, lthin, PINK, 1)
    lines(i, lred, RED, 2.2)
    band(i, rred, rgbot, RED)
    lines(i, [base], RED, 2.5)
    if wedge:
        poly(i, *unzip(wedge), RED)
    for lv, fs, fe in thin:
        profile(i, plateau, base, ref, lv, fs, fe, PINK, 1)
    for f, lv in zip(front, level):
        w = float(np.interp(f, dwx, dwy))
        profile(i, plateau, base, ref, lv, f, f + w, grad(f + 0.45 * w, cstops), 2)
    lines(i, strokes, RED, 2)
    pale(i, pal)
    dots(i, dts)
    band(i, rgtop, rgbot, "#00e000")
    lines(i, lgreen, GREEN, 3.2)
    px, py = unzip(plateau)
    for rim, col in [(r, "#00bb00") for r in DARK_RIM] + [(r, GREEN) for r in BRIGHT_RIM]:
        line(i, px, [v - rim for v in py], col, 2)
    line(i, px, py, GREEN, 1.6)
    lines(i, [tail], GREEN, 2.4)
    lines(i, spike, "#00dc00", 3)

# Axes
layout = dict(width=W, height=H, margin=dict(l=0, r=0, t=0, b=0, autoexpand=False), paper_bgcolor="white",
              plot_bgcolor="white", showlegend=False, hovermode=False, annotations=[], shapes=[])
TICKFONT = dict(family="DejaVu Sans", size=12, color="#2f2f2f", weight="bold")
YTITLEFONT = dict(family="DejaVu Sans", size=13.4, color="#2f2f2f", weight="bold")
for i, L in enumerate(LETTERS):
    x0, x1, y0, y1 = BOXES[L]
    s = "" if i == 0 else str(i + 1)
    layout["xaxis" + s] = dict(
        domain=[x0 / W, x1 / W], range=XR, anchor="y" + s, automargin=False, tickmode="array", tickvals=X_TICKS,
        ticks="outside", ticklen=3, ticklabelstandoff=2,
        tickwidth=1.5, tickcolor="#555", tickfont=TICKFONT, showline=True, mirror=True, linecolor="#555", linewidth=1.6,
        showgrid=True, gridcolor="#e9e9e9", gridwidth=1, zeroline=False, fixedrange=True,
        minor=dict(ticks="inside", dtick=1, tick0=105, ticklen=8, tickwidth=1.3, tickcolor="#555", showgrid=False),
        title=dict(text="Position in mm", font=TICKFONT, standoff=7))
    layout["yaxis" + s] = dict(
        domain=[1 - y1 / H, 1 - y0 / H], range=YRS[L], anchor="x" + s, automargin=False, tickmode="array", tickvals=Y_TICKS,
        ticks="outside", ticklen=7, tickwidth=1.5, tickcolor="#555", tickfont=TICKFONT, showline=True, mirror=True,
        linecolor="#555", linewidth=1.6, showgrid=True, gridcolor="#e9e9e9", gridwidth=1, zeroline=False, fixedrange=True,
        minor=dict(ticks="inside", dtick=5, tick0=0, ticklen=8, tickwidth=1.3, tickcolor="#555", showgrid=False),
        title=dict(text="Transmission in %", font=YTITLEFONT, standoff=1))
    for lo, hi in [(80, YRS[L][1]), (40, 60), (YRS[L][0], 20)]:
        layout["shapes"].append(dict(type="rect", xref="x" + s + " domain", x0=0, x1=1, yref="y" + s, y0=lo, y1=hi,
                                     fillcolor="#f7f7f7", line_width=0, layer="below"))
    lx, ly = LETTER_POS[L]
    layout["annotations"].append(dict(text=L, xref="paper", yref="paper", x=lx / W, y=1 - ly / H, xanchor="left",
                                      yanchor="middle", showarrow=False,
                                      font=dict(family="Liberation Sans", size=19, color="#111", weight="bold")))

layout["annotations"].append(dict(text=CAPTION_HEAD, xref="paper", yref="paper", x=39 / W, y=1 - 771 / H, xanchor="left",
                                  yanchor="middle", showarrow=False,
                                  font=dict(family="Open Sans", size=14.6, color="#7a7a7a")))
layout["annotations"].append(dict(text=CAPTION, xref="paper", yref="paper", x=39 / W, y=1 - 806 / H, xanchor="left",
                                  yanchor="middle", align="left", showarrow=False,
                                  font=dict(family="Open Sans", size=18.9, color="#5c5c5c", weight=300)))
# page frame
layout["shapes"].append(dict(type="line", xref="paper", yref="paper", x0=6 / W, x1=1, y0=1 - 6 / H, y1=1 - 6 / H,
                             line=dict(color="#8c8c8c", width=1.5)))
layout["shapes"].append(dict(type="line", xref="paper", yref="paper", x0=6 / W, x1=6 / W, y0=0, y1=1 - 6 / H,
                             line=dict(color="#8c8c8c", width=1.5)))
fig.update_layout(**layout)
fig.write_html("out.html", config={"displayModeBar": False},
               post_script="document.body.style.margin='0';document.body.style.overflow='hidden';")
